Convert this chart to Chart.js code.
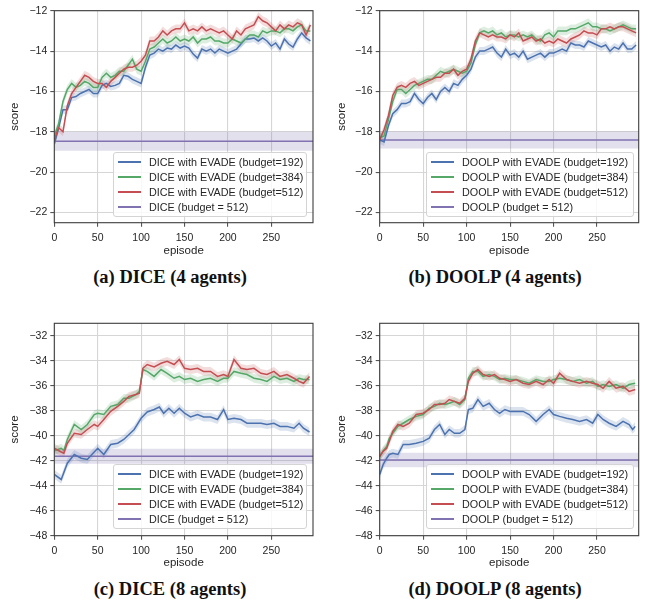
<!DOCTYPE html>
<html>
<head>
<meta charset="utf-8">
<script src="https://cdn.jsdelivr.net/npm/chart.js@4.4.1/dist/chart.umd.min.js"></script>
<style>
  body { margin: 0; background: #fff; width: 654px; height: 600px; position: relative; overflow: hidden;
         font-family: "Liberation Sans", Arial, sans-serif; }
  .panel { position: absolute; width: 327px; height: 262px; }
  .legend { position: absolute; box-sizing: border-box; background: rgba(255,255,255,0.82);
            border: 1px solid #d4d4d4; border-radius: 3px; padding: 1px 0 2px 0; }
  .legend .row { height: 15px; display: flex; align-items: center; font-size: 10.8px; color: #262626; white-space: nowrap; }
  .legend .swatch { display: block; width: 23px; height: 2px; margin: 0 8px 0 4px; flex: none; }
  .caption { position: absolute; font-family: "Liberation Serif", "DejaVu Serif", serif; font-weight: bold;
             font-size: 18.5px; line-height: 21px; color: #111; transform: translateX(-50%); white-space: nowrap; }
</style>
</head>
<body>
<div class="panel" style="left:0;top:0"><canvas id="chartA" width="327" height="262"></canvas></div>
<div class="panel" style="left:327px;top:0"><canvas id="chartB" width="327" height="262"></canvas></div>
<div class="panel" style="left:0;top:312px"><canvas id="chartC" width="327" height="262"></canvas></div>
<div class="panel" style="left:327px;top:312px"><canvas id="chartD" width="327" height="262"></canvas></div>

<div class="caption" style="left:170px;top:267px">(a) DICE (4 agents)</div>
<div class="caption" style="left:495px;top:267px">(b) DOOLP (4 agents)</div>
<div class="caption" style="left:170px;top:579px">(c) DICE (8 agents)</div>
<div class="caption" style="left:495px;top:579px">(d) DOOLP (8 agents)</div>

<script>
// ---- data ----
const xTicks = [0, 50, 100, 150, 200, 250];
const xMin = 0;
const xMax = 298;
const yTicks4 = [-22, -20, -18, -16, -14, -12];
const yTicks8 = [-48, -46, -44, -42, -40, -38, -36, -34, -32];

const seriesColors = ['#4c72b0', '#55a868', '#c44e52'];
const baselineColor = '#8172b2';

const legendDice = ['DICE with EVADE (budget=192)', 'DICE with EVADE (budget=384)',
                    'DICE with EVADE (budget=512)', 'DICE (budget = 512)'];
const legendDoolp = ['DOOLP with EVADE (budget=192)', 'DOOLP with EVADE (budget=384)',
                     'DOOLP with EVADE (budget=512)', 'DOOLP (budget = 512)'];

// 4 agents: one point every 5 episodes
const episodes4 = [0, 5, 10, 15, 20, 25, 30, 35, 40, 45, 50, 55, 60, 65, 70, 75, 80, 85, 90, 95,
  100, 105, 110, 115, 120, 125, 130, 135, 140, 145, 150, 155, 160, 165, 170, 175, 180, 185, 190, 195,
  200, 205, 210, 215, 220, 225, 230, 235, 240, 245, 250, 255, 260, 265, 270, 275, 280, 285, 290, 295];

const diceA192 = [-18.6, -17.8, -16.9, -16.9, -16.3, -16.25, -16.1, -16.0, -15.9, -16.1,
  -16.1, -15.7, -15.6, -15.75, -15.7, -15.6, -15.2, -15.25, -15.4, -15.5,
  -15.6, -14.8, -14.2, -14.1, -13.9, -14.0, -13.85, -13.9, -13.7, -13.85,
  -13.75, -13.85, -14.15, -14.35, -13.9, -14.0, -13.9, -14.1, -13.9, -14.0,
  -14.1, -14.0, -13.9, -13.65, -13.4, -13.4, -13.35, -13.5, -13.35, -13.5,
  -13.75, -13.6, -13.9, -13.4, -13.65, -13.8, -13.4, -13.1, -13.35, -13.5];
const diceA384 = [-18.2, -17.6, -16.5, -15.9, -15.6, -15.8, -15.7, -15.5, -15.6, -15.8,
  -15.8, -15.3, -15.1, -15.3, -15.2, -15.0, -15.0, -14.7, -14.4, -14.9,
  -15.0, -14.5, -13.9, -13.8, -13.6, -13.4, -13.6, -13.5, -13.3, -13.5,
  -13.4, -13.5, -13.3, -13.6, -13.4, -13.4, -13.3, -13.5, -13.5, -13.6,
  -13.6, -13.4, -13.5, -13.6, -13.4, -13.2, -13.2, -13.3, -13.0, -13.1,
  -13.0, -13.0, -13.1, -12.9, -12.9, -13.0, -12.8, -12.7, -13.0, -13.0];
const diceA512 = [-18.4, -17.8, -18.0, -16.7, -16.1, -15.8, -15.5, -15.2, -15.3, -15.5,
  -15.6, -15.6, -15.8, -15.5, -15.3, -15.1, -14.9, -14.8, -14.8, -14.7,
  -14.5, -14.2, -13.5, -13.5, -13.3, -13.0, -13.2, -13.0, -12.9, -12.9,
  -12.6, -13.0, -12.9, -13.0, -12.8, -13.0, -12.9, -13.0, -13.1, -13.0,
  -13.2, -13.4, -13.0, -13.2, -12.9, -12.8, -12.7, -12.3, -12.5, -12.6,
  -12.8, -13.0, -12.7, -12.9, -12.7, -12.8, -12.6, -12.7, -13.2, -12.7];

const doolpA192 = [-18.4, -18.5, -17.7, -17.1, -16.9, -16.6, -16.6, -16.5, -16.1, -16.4,
  -16.6, -16.3, -16.1, -16.4, -16.0, -15.8, -16.0, -15.6, -15.7, -15.4,
  -15.2, -14.9, -14.3, -14.0, -14.0, -13.9, -13.8, -14.1, -14.3, -13.9,
  -14.2, -14.1, -14.3, -14.0, -14.4, -14.3, -14.2, -14.1, -14.3, -14.1,
  -14.1, -14.0, -13.9, -14.0, -13.6, -13.7, -13.7, -13.8, -13.5, -13.6,
  -13.7, -13.8, -13.7, -14.0, -13.8, -13.9, -13.6, -13.9, -13.9, -13.7];
const doolpA384 = [-18.3, -18.2, -17.4, -16.5, -15.9, -15.9, -16.1, -15.9, -15.7, -15.6,
  -15.5, -15.4, -15.4, -15.2, -15.0, -15.1, -15.0, -14.9, -15.0, -15.1,
  -15.0, -14.6, -13.7, -13.1, -13.0, -13.1, -13.0, -13.2, -13.1, -13.3,
  -13.2, -13.2, -13.3, -13.2, -13.3, -13.2, -13.4, -13.5, -13.2, -13.1,
  -13.3, -13.0, -13.0, -13.0, -12.9, -12.9, -12.8, -12.7, -12.6, -12.8,
  -12.8, -12.9, -12.9, -13.0, -12.9, -12.8, -12.7, -12.8, -12.9, -12.9];
const doolpA512 = [-18.4, -17.9, -17.2, -16.2, -15.8, -15.7, -15.8, -15.6, -15.5, -15.7,
  -15.6, -15.5, -15.4, -15.3, -15.3, -15.1, -15.1, -14.9, -15.2, -15.0,
  -14.9, -14.4, -13.5, -13.1, -13.2, -13.3, -13.2, -13.3, -13.3, -13.4,
  -13.2, -13.3, -13.1, -13.5, -13.4, -13.3, -13.5, -13.4, -13.6, -13.5,
  -13.6, -13.4, -13.5, -13.6, -13.4, -13.3, -13.2, -13.0, -13.1, -13.1,
  -13.2, -12.9, -12.9, -12.8, -12.9, -12.8, -12.8, -12.9, -13.0, -13.1];

// 8 agents: points at the visible turns of each curve
const episodesDiceB192 = [0, 8, 15, 23, 31, 38, 46, 50, 57, 65, 73, 80, 86, 92, 100, 107, 115, 121, 126, 132,
  138, 144, 150, 157, 165, 172, 180, 188, 195, 200, 207, 215, 222, 230, 238, 245, 253, 260, 268, 276,
  282, 287, 294];
const diceB192 = [-43.1, -43.5, -42.2, -41.5, -41.8, -41.9, -41.3, -41.0, -41.5, -40.7,
  -40.6, -40.3, -39.9, -39.5, -38.6, -38.1, -37.9, -37.7, -38.2, -37.8,
  -38.2, -37.8, -38.2, -38.5, -38.3, -38.5, -38.5, -38.7, -37.9, -38.7,
  -38.6, -38.7, -39.0, -39.0, -39.0, -39.1, -39.0, -39.25, -39.25, -39.4,
  -39.0, -39.4, -39.7];
const episodesDiceB = [0, 8, 11, 15, 23, 31, 38, 46, 50, 57, 65, 73, 80, 86, 94, 98, 102, 107, 115, 123,
  130, 138, 144, 150, 157, 165, 172, 180, 188, 195, 200, 207, 215, 222, 230, 238, 245, 253, 260, 268,
  276, 282, 287, 294];
const diceB384 = [-41.2, -41.0, -41.2, -40.3, -39.1, -39.5, -39.1, -38.3, -38.2, -38.3,
  -37.65, -37.5, -37.0, -37.0, -36.7, -36.45, -34.7, -34.85, -35.25, -34.7,
  -35.0, -35.4, -35.25, -35.5, -35.4, -35.65, -35.5, -35.4, -35.65, -35.4,
  -35.4, -34.85, -35.0, -35.1, -35.4, -35.5, -35.65, -35.25, -35.5, -35.4,
  -35.65, -35.4, -35.5, -35.5];
const diceB512 = [-41.0, -41.3, -41.4, -40.6, -39.8, -39.9, -39.5, -39.1, -39.25, -38.7,
  -38.05, -37.65, -37.25, -36.85, -36.7, -36.6, -34.6, -34.3, -34.5, -34.2,
  -34.05, -34.3, -33.9, -34.6, -34.7, -34.6, -34.85, -34.85, -35.25, -35.1,
  -35.25, -33.9, -34.6, -34.7, -34.6, -35.0, -35.1, -34.85, -35.25, -35.1,
  -35.4, -35.65, -35.8, -35.25];

const episodesDoolpB192 = [0, 4, 8, 11, 15, 21, 27, 34, 42, 50, 57, 63, 69, 75, 80, 86, 92, 98, 102, 107,
  113, 119, 126, 132, 138, 144, 150, 157, 165, 172, 180, 188, 195, 200, 207, 215, 222, 230, 238, 245,
  251, 257, 264, 272, 280, 287, 291, 294];
const doolpB192 = [-43.1, -42.3, -41.8, -41.5, -41.4, -41.5, -40.7, -40.7, -40.6, -40.45,
  -40.2, -39.5, -39.1, -39.9, -39.5, -39.8, -39.8, -39.5, -37.9, -37.8,
  -37.1, -37.65, -37.4, -37.9, -38.2, -37.9, -38.05, -38.05, -38.05, -38.3,
  -38.85, -38.3, -37.9, -38.3, -38.45, -38.6, -38.7, -38.85, -38.7, -39.0,
  -38.3, -38.7, -39.0, -39.25, -38.85, -39.1, -39.5, -39.25];
const episodesDoolpB = [0, 4, 8, 11, 15, 21, 27, 34, 42, 50, 57, 63, 69, 75, 80, 86, 92, 98, 102, 107,
  113, 119, 126, 132, 138, 144, 150, 157, 165, 172, 180, 188, 195, 200, 207, 215, 222, 230, 238, 245,
  251, 257, 264, 272, 280, 287, 294];
const doolpB384 = [-41.7, -41.2, -40.85, -40.2, -39.8, -39.25, -39.0, -38.7, -38.45, -38.3,
  -37.8, -37.65, -37.4, -37.5, -37.4, -37.25, -37.5, -37.1, -35.4, -34.85,
  -34.85, -35.25, -35.1, -35.25, -35.5, -35.4, -35.5, -35.5, -35.65, -35.8,
  -35.5, -35.65, -35.65, -35.5, -35.4, -35.5, -35.65, -35.5, -35.8, -35.65,
  -36.05, -35.9, -36.05, -35.9, -36.2, -35.9, -35.8];
const doolpB512 = [-41.65, -41.25, -41.0, -40.45, -39.65, -39.1, -39.25, -39.0, -38.3, -38.2,
  -37.9, -37.5, -37.5, -37.4, -37.1, -37.25, -37.4, -37.0, -35.65, -35.0,
  -34.7, -35.1, -35.25, -35.1, -35.4, -35.5, -35.65, -35.5, -35.8, -35.9,
  -35.65, -35.9, -35.5, -35.8, -35.0, -35.5, -35.65, -35.8, -35.65, -35.8,
  -35.9, -36.2, -35.65, -36.2, -36.05, -36.45, -36.3];

// half width of the shaded bands (per series: 192, 384, 512)
const spread4 = [0.2, 0.22, 0.22];
const spread8 = [0.35, 0.35, 0.35];

// flat baselines: mean and half width of band
const baselineMeans = [-18.47, -18.4, -41.65, -41.95];
const baselineSpreads = [0.47, 0.42, 0.6, 0.58];

// ---- drawing ----
const canvasH = 262;
const tickFont = { family: 'Liberation Sans', size: 10.5 };
const titleFont = { family: 'Liberation Sans', size: 11.5 };
const minus = v => String(v).replace('-', '\u2212');

const framePlugin = {
  id: 'frame',
  afterDraw(chart) {
    const a = chart.chartArea, ctx = chart.ctx;
    ctx.save();
    ctx.strokeStyle = '#3c3c3c';
    ctx.lineWidth = 1.1;
    ctx.strokeRect(a.left, a.top, a.right - a.left, a.bottom - a.top);
    ctx.restore();
  }
};

function zip(xs, ys, shift) {
  return xs.map((x, i) => ({ x: x, y: ys[i] + shift }));
}

function withAlpha(hex, a) {
  const n = parseInt(hex.slice(1), 16);
  return `rgba(${n >> 16},${(n >> 8) & 255},${n & 255},${a})`;
}

function buildPanel(id, p) {
  const datasets = [];
  // mean lines (lower order = drawn on top)
  [2, 1, 0].forEach((s, k) => {
    datasets.push({
      data: zip(p.episodes[s], p.values[s], 0), borderColor: seriesColors[s],
      borderWidth: 1.5, pointRadius: 0, fill: false, order: k
    });
  });
  const flat = [{ x: xMin, y: p.baseline }, { x: xMax, y: p.baseline }];
  datasets.push({ data: flat, borderColor: baselineColor, borderWidth: 1.5, pointRadius: 0, fill: false, order: 3 });
  // shaded bands: upper edge fills down to the lower edge that follows it
  [0, 1, 2].forEach((s, k) => {
    datasets.push({
      data: zip(p.episodes[s], p.values[s], p.spread[s]), borderWidth: 0, pointRadius: 0,
      backgroundColor: withAlpha(seriesColors[s], 0.2), fill: '+1', order: 10 + k
    });
    datasets.push({
      data: zip(p.episodes[s], p.values[s], -p.spread[s]), borderWidth: 0, pointRadius: 0,
      fill: false, order: 10 + k
    });
  });
  datasets.push({
    data: flat.map(d => ({ x: d.x, y: d.y + p.baseSpread })), borderWidth: 0, pointRadius: 0,
    backgroundColor: withAlpha(baselineColor, 0.22), fill: '+1', order: 20
  });
  datasets.push({
    data: flat.map(d => ({ x: d.x, y: d.y - p.baseSpread })), borderWidth: 0, pointRadius: 0,
    fill: false, order: 20
  });

  new Chart(document.getElementById(id), {
    type: 'line',
    data: { datasets: datasets },
    plugins: [framePlugin],
    options: {
      responsive: false,
      animation: false,
      events: [],
      layout: { padding: { left: 0, right: 327 - p.area.right, top: p.area.top, bottom: 0 } },
      plugins: { legend: { display: false }, tooltip: { enabled: false } },
      elements: { line: { tension: 0 } },
      scales: {
        x: {
          type: 'linear', min: xMin, max: xMax,
          afterBuildTicks: s => { s.ticks = xTicks.map(v => ({ value: v })); },
          afterFit: s => { s.height = canvasH - p.area.bottom; },
          grid: { color: '#d6d6d6', lineWidth: 1.1, tickColor: '#555', tickLength: 4 },
          border: { display: false },
          ticks: { font: tickFont, color: '#262626', padding: 5, maxRotation: 0, callback: minus },
          title: { display: true, text: 'episode', font: titleFont, color: '#262626', padding: { top: 0 } }
        },
        y: {
          type: 'linear', min: p.yMin, max: p.yMax,
          afterBuildTicks: s => { s.ticks = p.yTicks.map(v => ({ value: v })); },
          afterFit: s => { s.width = p.area.left; },
          grid: { color: '#d6d6d6', lineWidth: 1.1, tickColor: '#555', tickLength: 4 },
          border: { display: false },
          ticks: { font: tickFont, color: '#262626', padding: 3, callback: minus },
          title: { display: true, text: 'score', font: titleFont, color: '#262626', padding: { top: 8, bottom: 0 } }
        }
      }
    }
  });
}

function buildLegend(left, top, width, labels) {
  const box = document.createElement('div');
  box.className = 'legend';
  box.style.left = left + 'px';
  box.style.top = top + 'px';
  box.style.width = width + 'px';
  labels.forEach((label, i) => {
    const row = document.createElement('div');
    row.className = 'row';
    const sw = document.createElement('span');
    sw.className = 'swatch';
    sw.style.backgroundColor = i < 3 ? seriesColors[i] : baselineColor;
    row.appendChild(sw);
    row.appendChild(document.createTextNode(label));
    box.appendChild(row);
  });
  document.body.appendChild(box);
}

const areaLeft = { left: 54.3, right: 313, top: 10.7, bottom: 222.7 };
const areaRight = { left: 52.7, right: 311.7, top: 10.7, bottom: 222.7 };
const areaLeft8 = { left: 54.3, right: 313, top: 11.3, bottom: 223.7 };
const areaRight8 = { left: 52.7, right: 311.7, top: 11.3, bottom: 223.7 };

buildPanel('chartA', {
  episodes: [episodes4, episodes4, episodes4], values: [diceA192, diceA384, diceA512], spread: spread4,
  baseline: baselineMeans[0], baseSpread: baselineSpreads[0], yMin: -22.5, yMax: -12, yTicks: yTicks4, area: areaLeft
});
buildPanel('chartB', {
  episodes: [episodes4, episodes4, episodes4], values: [doolpA192, doolpA384, doolpA512], spread: spread4,
  baseline: baselineMeans[1], baseSpread: baselineSpreads[1], yMin: -22.5, yMax: -12, yTicks: yTicks4, area: areaRight
});
buildPanel('chartC', {
  episodes: [episodesDiceB192, episodesDiceB, episodesDiceB], values: [diceB192, diceB384, diceB512], spread: spread8,
  baseline: baselineMeans[2], baseSpread: baselineSpreads[2], yMin: -48, yMax: -31, yTicks: yTicks8, area: areaLeft8
});
buildPanel('chartD', {
  episodes: [episodesDoolpB192, episodesDoolpB, episodesDoolpB], values: [doolpB192, doolpB384, doolpB512], spread: spread8,
  baseline: baselineMeans[3], baseSpread: baselineSpreads[3], yMin: -48, yMax: -31, yTicks: yTicks8, area: areaRight8
});

buildLegend(113, 152, 194, legendDice);
buildLegend(426, 152, 208, legendDoolp);
buildLegend(113, 464, 194, legendDice);
buildLegend(426, 464, 208, legendDoolp);
</script>
</body>
</html>
